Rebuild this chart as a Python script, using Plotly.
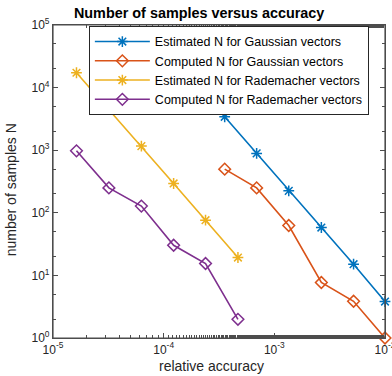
import plotly.graph_objects as go

# accuracies
acc_gauss = [3.56e-4, 6.92e-4, 1.35e-3, 2.66e-3, 5.2e-3, 1.0e-2]
acc_rade = [1.63e-5, 3.2e-5, 6.29e-5, 1.23e-4, 2.39e-4, 4.69e-4]

# numbers of samples
est_gauss = [3420, 889, 224, 58.2, 15.1, 3.82]
comp_gauss = [498, 250, 62.7, 7.7, 3.86, 1.0]
est_rade = [17270, 4490, 1162, 294, 76.2, 19.3]
comp_rade = [977, 250, 128, 30.3, 15.5, 1.99]

names = ["Estimated N for Gaussian vectors", "Computed N for Gaussian vectors",
         "Estimated N for Rademacher vectors", "Computed N for Rademacher vectors"]
colors = ["#0072BD", "#D95319", "#EDB120", "#7E2F8E"]

x_ticks = [1e-5, 1e-4, 1e-3, 1e-2]
x_ticktext = ["10<sup>-5</sup>", "10<sup>-4</sup>", "10<sup>-3</sup>", "10<sup>-2</sup>"]
y_ticks = [1, 10, 100, 1000, 10000, 100000]
y_ticktext = ["10<sup>0</sup>", "10<sup>1</sup>", "10<sup>2</sup>", "10<sup>3</sup>",
              "10<sup>4</sup>", "10<sup>5</sup>"]

FONT = "Liberation Sans, Arial, sans-serif"
AX = "#4d4d4d"

series = [
    (acc_gauss, est_gauss, "asterisk-open"),
    (acc_gauss, comp_gauss, "diamond-open"),
    (acc_rade, est_rade, "asterisk-open"),
    (acc_rade, comp_rade, "diamond-open"),
]

fig = go.Figure()
for (xs, ys, sym), name, col in zip(series, names, colors):
    fig.add_trace(go.Scatter(
        x=xs, y=ys, name=name, mode="lines+markers",
        line=dict(color=col, width=1.6),
        marker=dict(symbol=sym, size=9, color=col, line=dict(color=col, width=1.5)),
        cliponaxis=False,
    ))

axis_common = dict(
    type="log", showgrid=False, zeroline=False, automargin=False,
    showline=True, linecolor=AX, linewidth=1.2, mirror="allticks",
    ticks="inside", ticklen=5, tickcolor=AX, tickwidth=1,
    minor=dict(ticks="inside", ticklen=3, tickcolor=AX, showgrid=False),
    tickfont=dict(family=FONT, size=12, color="#262626"),
    tickmode="array", ticklabeloverflow="allow",
)

fig.update_xaxes(**axis_common, range=[-5, -1.99999], tickvals=x_ticks, ticktext=x_ticktext)
fig.update_yaxes(**axis_common, range=[-0.00001, 5], tickvals=y_ticks, ticktext=y_ticktext)

# frame around the axes box
fig.add_shape(type="rect", xref="paper", yref="paper", x0=0, x1=1, y0=0, y1=1,
              line=dict(color=AX, width=1.2), layer="above")

fig.add_annotation(text="relative accuracy", xref="paper", yref="paper", x=0.476, y=0,
                   yshift=-28, xanchor="center", yanchor="middle", showarrow=False,
                   font=dict(family=FONT, size=14, color="#262626"))
fig.add_annotation(text="number of samples N", xref="paper", yref="paper", x=0, y=0.472,
                   xshift=-42, xanchor="center", yanchor="middle", textangle=-90, showarrow=False,
                   font=dict(family=FONT, size=14, color="#262626"))

fig.update_layout(
    width=392, height=376,
    margin=dict(l=53, r=7, t=25, b=38),
    paper_bgcolor="white", plot_bgcolor="white",
    title=dict(text="<b>Number of samples versus accuracy</b>", x=0.508, xanchor="center",
               y=0.965, yanchor="middle",
               font=dict(family=FONT, size=14.4, color="black")),
    legend=dict(x=0.108, y=0.997, xanchor="left", yanchor="top",
                bgcolor="white", bordercolor="#262626", borderwidth=1,
                font=dict(family=FONT, size=12.5, color="black"),
                itemwidth=55, tracegroupgap=0),
    showlegend=True,
)

fig.write_html("out.html", config={"displayModeBar": False},
               post_script="document.body.style.margin='0';document.body.style.overflow='hidden';")
